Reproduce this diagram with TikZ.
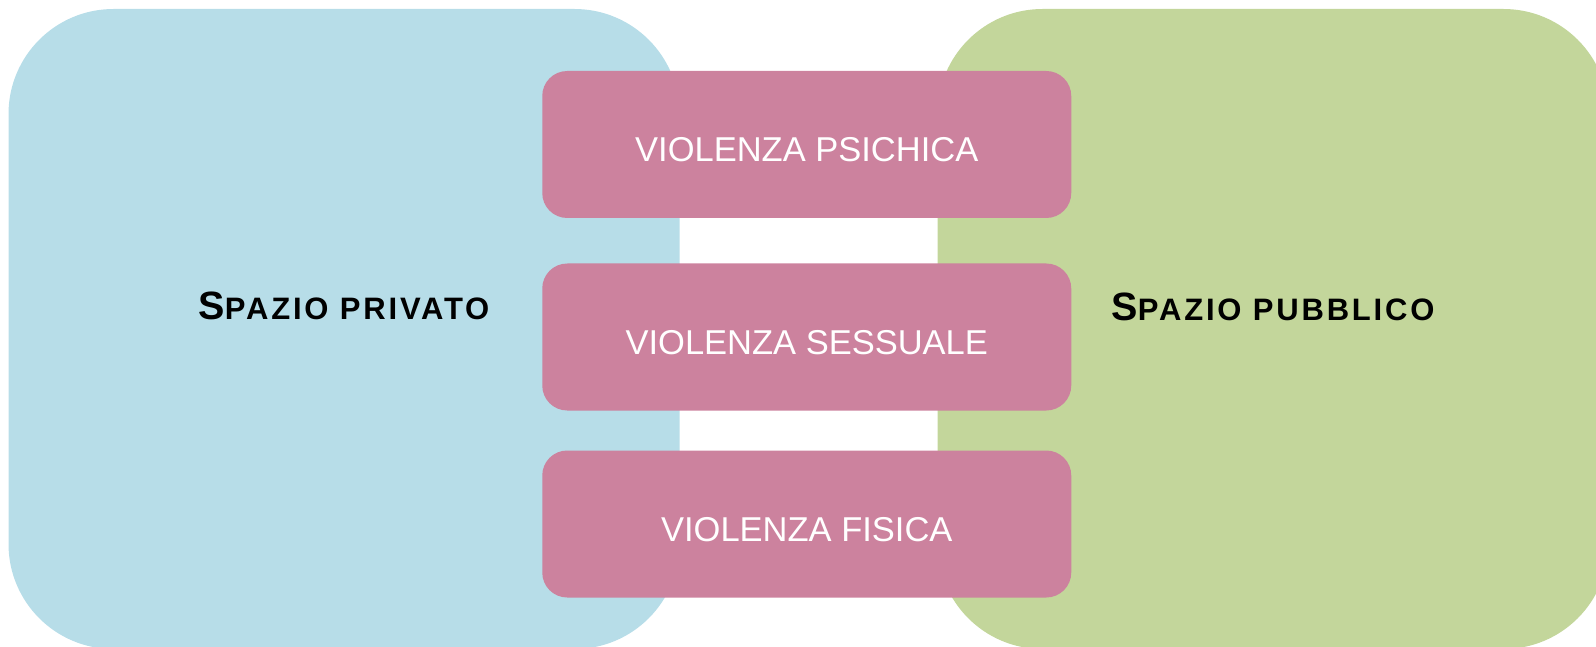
\documentclass[tikz,border=0pt]{standalone}
\usepackage{fontspec}
\setmainfont{Liberation Sans}
\newfontfamily\titlefont[LetterSpace=9]{Liberation Sans}

\definecolor{privatoblue}{HTML}{B7DDE8}
\definecolor{pubblicogreen}{HTML}{C3D69B}
\definecolor{violenzapink}{HTML}{CC829E}

% fake small caps for the two titles
\newcommand{\spaziotitle}[2]{{\fontsize{39.5}{39.5}\selectfont #1}{\fontsize{31}{31}\selectfont #2}}

\begin{document}
\begin{tikzpicture}[x=1pt, y=-1pt,
  spazio/.style={rounded corners=105pt, minimum width=671pt, minimum height=640pt, inner sep=0pt},
  titolo/.style={anchor=base, font=\titlefont\bfseries},
  violenza/.style={fill=violenzapink, rounded corners=25pt, minimum width=529pt, minimum height=147pt,
    text=white, font=\fontsize{34.5}{34.5}\selectfont, text height=34.5pt, text depth=0pt, inner sep=0pt}]
\useasboundingbox (0,0) rectangle (1596,647);

% Spaces
\node[spazio, fill=privatoblue] (privato) at (344,329) {};
\node[spazio, fill=pubblicogreen] (pubblico) at (1273,329) {};
\node[titolo] (privatotitle) at (344,319.5) {\spaziotitle{S}{PAZIO PRIVATO}};
\node[titolo] (pubblicotitle) at (1273,320) {\spaziotitle{S}{PAZIO PUBBLICO}};

% Forms of violence
\node[violenza] (psichica) at (806.75,144.5) {VIOLENZA PSICHICA};
\node[violenza] (sessuale) at (806.75,337) {VIOLENZA SESSUALE};
\node[violenza] (fisica) at (806.75,524) {VIOLENZA FISICA};
\end{tikzpicture}
\end{document}
